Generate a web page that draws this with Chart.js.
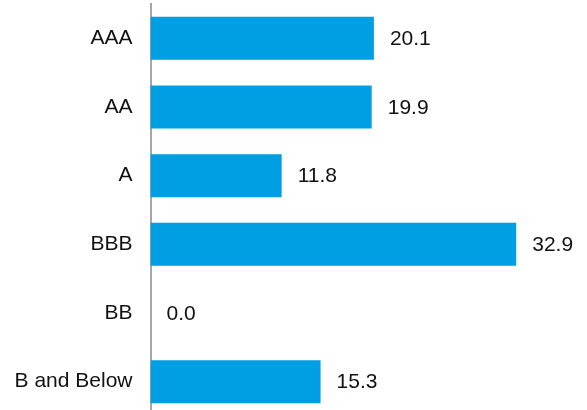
<!DOCTYPE html>
<html>
<head>
<meta charset="utf-8">
<script src="https://cdn.jsdelivr.net/npm/chart.js@4"></script>
<style>
  html, body { margin: 0; padding: 0; overflow: hidden; background: #fff; }
  #wrap { width: 587px; height: 420px; }
</style>
</head>
<body>
<div id="wrap"><canvas id="rating_chart" width="587" height="420"></canvas></div>
<script>
const ratings = ["AAA", "AA", "A", "BBB", "BB", "B and Below"];
const weights = [20.1, 19.9, 11.8, 32.9, 0.0, 15.3];

// value labels at the end of each bar
const barValues = {
  id: "barValues",
  afterDatasetsDraw(chart) {
    const ctx = chart.ctx;
    const meta = chart.getDatasetMeta(0);
    ctx.save();
    ctx.font = "21px 'Liberation Sans', Arial, sans-serif";
    ctx.fillStyle = "#111";
    ctx.textAlign = "left";
    ctx.textBaseline = "middle";
    meta.data.forEach((bar, i) => {
      ctx.fillText(weights[i].toFixed(1), bar.x + 16, bar.y + 1);
    });
    ctx.restore();
  }
};

rating_chart = new Chart("rating_chart", {
  type: "bar",
  data: {
    labels: ratings,
    datasets: [{
      data: weights,
      backgroundColor: "#009FE3",
      borderWidth: 0,
      categoryPercentage: 1.0,
      barPercentage: 0.626
    }]
  },
  options: {
    indexAxis: "y",
    responsive: false,
    animation: false,
    layout: { padding: { top: 4, bottom: 4, right: 3, left: 0 } },
    plugins: { legend: { display: false }, tooltip: { enabled: false } },
    scales: {
      x: { display: false, min: 0, max: 39 },
      y: {
        afterFit(scale) {
          scale.width = 150.5;
          scale.paddingTop = 0;
          scale.paddingBottom = 0;
        },
        grid: { display: false, drawTicks: false },
        border: { display: true, color: "#A6A6A6", width: 2 },
        ticks: {
          padding: 18,
          color: "#111",
          font: { family: "'Liberation Sans', Arial, sans-serif", size: 21 }
        }
      }
    }
  },
  plugins: [barValues]
});
</script>
</body>
</html>
